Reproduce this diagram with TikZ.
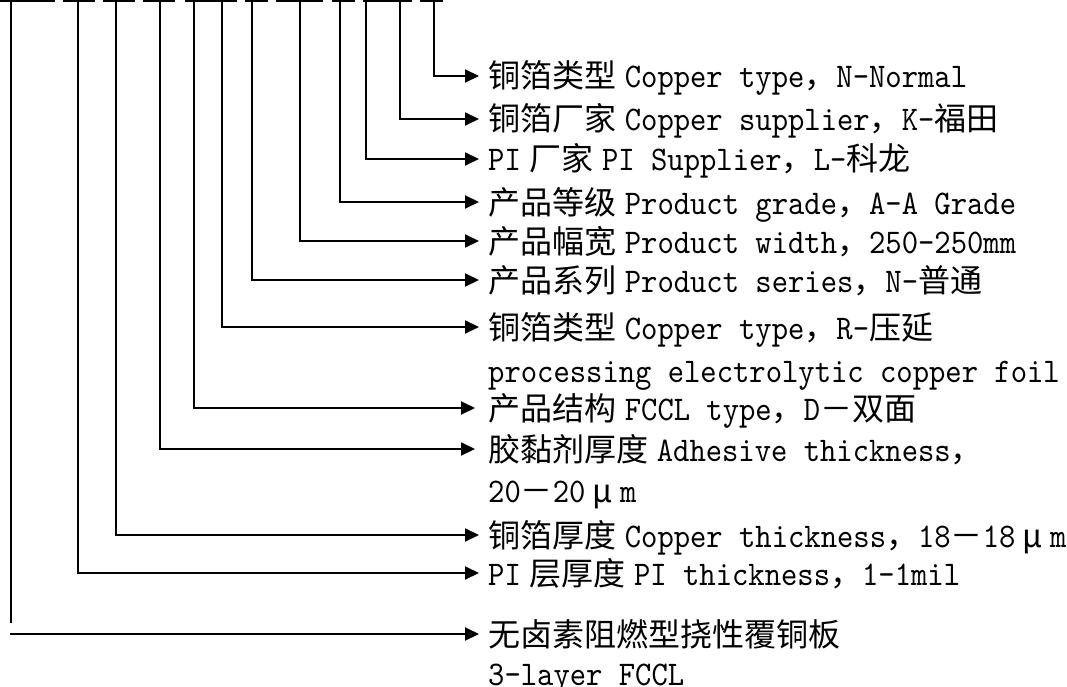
\documentclass[tikz,border=0pt]{standalone}
\usepackage{fontspec}
\newfontfamily\cjk{Noto Sans CJK SC}
\newfontfamily\lmm{lmmono10-regular.otf}[Scale=1.08,FakeStretch=0.9]
\usetikzlibrary{arrows.meta}
\newcommand\C[1]{{\cjk #1}}
\newcommand\G{\hspace{0.25em}}
\tikzset{
  conn/.style={line width=2pt, -{Triangle[length=14pt,width=13pt]}},
  plain/.style={line width=2pt},
  bar/.style={line width=2pt},
  lbl/.style={anchor=west, inner xsep=9pt, inner ysep=0pt, text height=28pt, text depth=4pt,
              font=\fontsize{32}{38}\selectfont\lmm},
}
\begin{document}
\begin{tikzpicture}[x=1pt,y=-1pt]
\useasboundingbox (0,0) rectangle (1067,687);
% code underline bars
\foreach \a/\b in {0/55,63/95,103/135,143/175,185/237,245/268,276/323,332/355,363/412,420/443}
  \draw[bar] (\a,1) -- (\b,1);
% tops of the leader lines
\coordinate (t1) at (434,1);
\coordinate (t2) at (400,1);
\coordinate (t3) at (366,1);
\coordinate (t4) at (340,1);
\coordinate (t5) at (300,1);
\coordinate (t6) at (252,1);
\coordinate (t7) at (222,1);
\coordinate (t8) at (194,1);
\coordinate (t9) at (160,1);
\coordinate (t10) at (116,1);
\coordinate (t11) at (78,1);
\coordinate (t12) at (11,1);
\coordinate (c12) at (11,623);
\coordinate (c12s) at (10,634);
% labels
\node[lbl] (r1) at (479,76) {\C{铜箔类型}\G Copper type\C{，}N-Normal};
\node[lbl] (r2) at (479,119) {\C{铜箔厂家}\G Copper supplier\C{，}K-\C{福田}};
\node[lbl] (r3) at (479,159) {PI\G\C{厂家}\G PI Supplier\C{，}L-\C{科龙}};
\node[lbl] (r4) at (479,202) {\C{产品等级}\G Product grade\C{，}A-A Grade};
\node[lbl] (r5) at (479,241) {\C{产品幅宽}\G Product width\C{，}250-250mm};
\node[lbl] (r6) at (479,280) {\C{产品系列}\G Product series\C{，}N-\C{普通}};
\node[lbl] (r7) at (479,327) {\C{铜箔类型}\G Copper type\C{，}R-\C{压延}};
\node[lbl] (r7b) at (479,370) {processing electrolytic copper foil};
\node[lbl] (r8) at (479,408) {\C{产品结构}\G FCCL type\C{，}D\C{－双面}};
\node[lbl] (r9) at (479,449) {\C{胶黏剂厚度}\G Adhesive thickness\C{，}};
\node[lbl] (r9b) at (479,490) {20\C{－}20\makebox[1em]{\C{μ}}m};
\node[lbl] (r10) at (479,535) {\C{铜箔厚度}\G Copper thickness\C{，}18\C{－}18\makebox[1em]{\C{μ}}m};
\node[lbl] (r11) at (479,573) {PI\G\C{层厚度}\G PI thickness\C{，}1-1mil};
\node[lbl] (r12) at (479,634) {\C{无卤素阻燃型挠性覆铜板}};
\node[lbl] (r12b) at (479,673) {3-layer FCCL};
% connectors
\draw[conn] (t1) |- (r1.west);
\draw[conn] (t2) |- (r2.west);
\draw[conn] (t3) |- (r3.west);
\draw[conn] (t4) |- (r4.west);
\draw[conn] (t5) |- (r5.west);
\draw[conn] (t6) |- (r6.west);
\draw[conn] (t7) |- (r7.west);
\draw[conn, shorten >=4pt] (t8) |- (r8.west);
\draw[conn, shorten >=4pt] (t9) |- (r9.west);
\draw[conn] (t10) |- (r10.west);
\draw[conn] (t11) |- (r11.west);
\draw[plain] (t12) -- (c12);
\draw[conn] (c12s) -- (r12.west);
\end{tikzpicture}
\end{document}
